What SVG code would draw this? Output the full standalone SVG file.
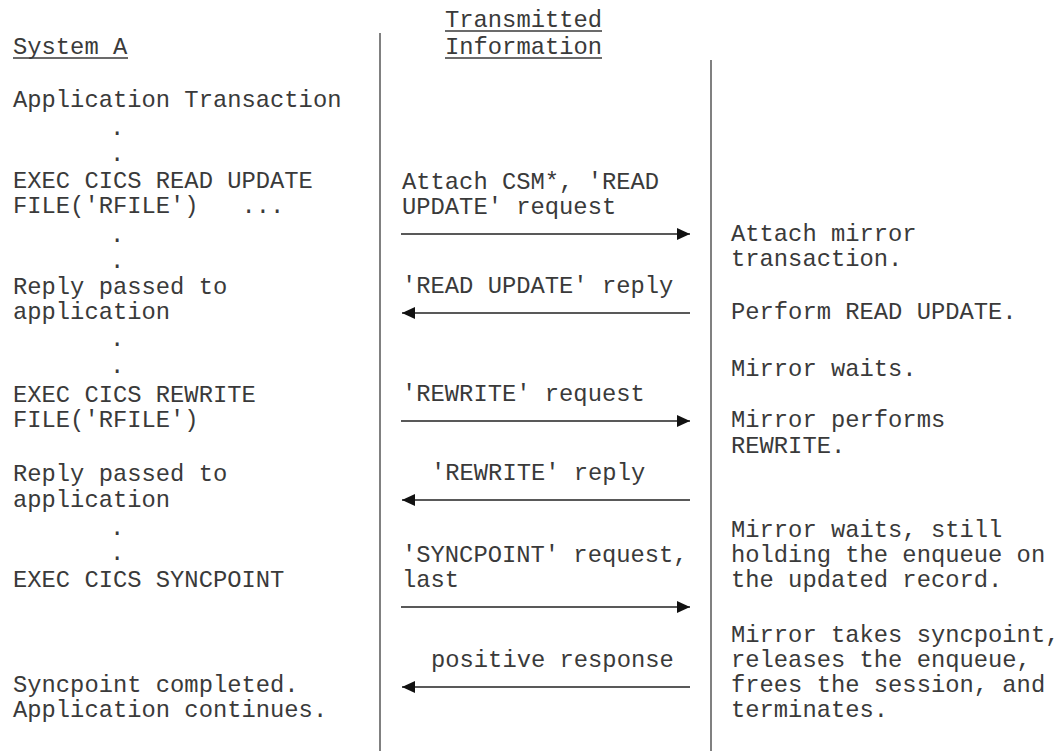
<svg xmlns="http://www.w3.org/2000/svg" width="1061" height="751" viewBox="0 0 1061 751">
<style>
  text { font-family: "Liberation Mono", "DejaVu Sans Mono", monospace; font-size: 23.8px; fill: #3a3a3a; white-space: pre; }
  .ul { stroke: #3a3a3a; stroke-width: 1.5; }
  .lane { stroke: #808080; stroke-width: 2; fill: none; }
  .msg { stroke: #222; stroke-width: 1.5; fill: none; marker-end: url(#head); }
</style>
<defs>
  <marker id="head" markerUnits="userSpaceOnUse" markerWidth="13" markerHeight="12" refX="13" refY="6" orient="auto">
    <path d="M0,0 L13,6 L0,12 Z" fill="#111"/>
  </marker>
</defs>
<rect width="1061" height="751" fill="#fff"/>

<g id="lanes">
  <line class="lane" x1="380" y1="33" x2="380" y2="751"/>
  <line class="lane" x1="711" y1="60" x2="711" y2="751"/>
</g>

<g id="header-system-a">
  <text x="13" y="54">System A</text>
  <line class="ul" x1="13" y1="58" x2="128" y2="58"/>
</g>
<g id="header-transmitted">
  <text x="445" y="27">Transmitted</text>
  <line class="ul" x1="445" y1="31" x2="602" y2="31"/>
  <text x="445" y="54">Information</text>
  <line class="ul" x1="445" y1="58" x2="602" y2="58"/>
</g>

<g id="system-a">
  <text x="13" y="107">Application Transaction</text>
  <text x="110" y="135">.</text>
  <text x="110" y="161">.</text>
  <text x="13" y="188">EXEC CICS READ UPDATE</text>
  <text x="13" y="213" xml:space="preserve">FILE('RFILE')   ...</text>
  <text x="110" y="242">.</text>
  <text x="110" y="268">.</text>
  <text x="13" y="294">Reply passed to</text>
  <text x="13" y="319">application</text>
  <text x="110" y="346">.</text>
  <text x="110" y="373">.</text>
  <text x="13" y="402">EXEC CICS REWRITE</text>
  <text x="13" y="427">FILE('RFILE')</text>
  <text x="13" y="481">Reply passed to</text>
  <text x="13" y="507">application</text>
  <text x="110" y="535">.</text>
  <text x="110" y="560">.</text>
  <text x="13" y="587">EXEC CICS SYNCPOINT</text>
  <text x="13" y="692">Syncpoint completed.</text>
  <text x="13" y="717">Application continues.</text>
</g>

<g id="transmitted">
  <text x="402" y="189">Attach CSM*, 'READ</text>
  <text x="402" y="214">UPDATE' request</text>
  <text x="402" y="293">'READ UPDATE' reply</text>
  <text x="402" y="401">'REWRITE' request</text>
  <text x="431" y="480">'REWRITE' reply</text>
  <text x="402" y="562">'SYNCPOINT' request,</text>
  <text x="402" y="587">last</text>
  <text x="431" y="667">positive response</text>
</g>

<g id="mirror">
  <text x="731" y="241">Attach mirror</text>
  <text x="731" y="266">transaction.</text>
  <text x="731" y="319">Perform READ UPDATE.</text>
  <text x="731" y="376">Mirror waits.</text>
  <text x="731" y="427">Mirror performs</text>
  <text x="731" y="453">REWRITE.</text>
  <text x="731" y="537">Mirror waits, still</text>
  <text x="731" y="562">holding the enqueue on</text>
  <text x="731" y="587">the updated record.</text>
  <text x="731" y="642">Mirror takes syncpoint,</text>
  <text x="731" y="667">releases the enqueue,</text>
  <text x="731" y="692">frees the session, and</text>
  <text x="731" y="717">terminates.</text>
</g>

<g id="connectors">
  <line class="msg" x1="401" y1="234" x2="690" y2="234"/>
  <line class="msg" x1="690" y1="313" x2="402" y2="313"/>
  <line class="msg" x1="401" y1="421" x2="690" y2="421"/>
  <line class="msg" x1="690" y1="500" x2="402" y2="500"/>
  <line class="msg" x1="401" y1="607" x2="690" y2="607"/>
  <line class="msg" x1="690" y1="687" x2="402" y2="687"/>
</g>
</svg>
